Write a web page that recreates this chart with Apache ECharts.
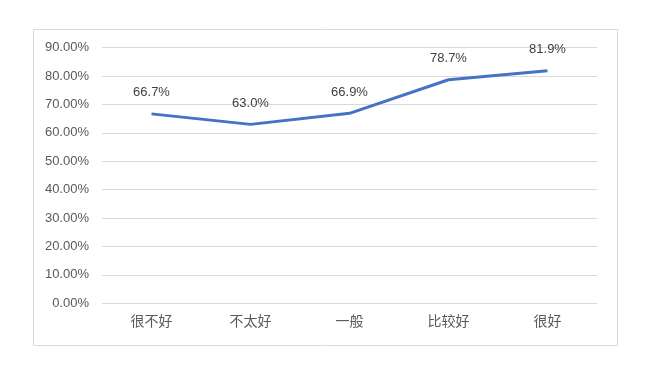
<!DOCTYPE html>
<html><head><meta charset="utf-8">
<script src="https://cdn.jsdelivr.net/npm/echarts@6/dist/echarts.min.js"></script>
<style>html,body{margin:0;padding:0;background:#fff;}#c{width:650px;height:367px;}</style>
</head><body><div id="c"></div>
<script>
var categories = ['很不好', '不太好', '一般', '比较好', '很好'];
var values = [66.7, 63.0, 66.9, 78.7, 81.9];
var yTicks = [0, 10, 20, 30, 40, 50, 60, 70, 80, 90];

var font = '"Liberation Sans", "Noto Sans CJK SC", sans-serif';
var chart = echarts.init(document.getElementById('c'), null, {renderer: 'canvas'});
chart.setOption({
  animation: false,
  backgroundColor: '#fff',
  graphic: [{
    type: 'rect', shape: {x: 33.5, y: 29.5, width: 584, height: 316},
    style: {fill: 'none', stroke: '#d9d9d9', lineWidth: 1}, silent: true, z: -1
  }],
  grid: {left: 102, right: 53, top: 47.7, bottom: 63.7, containLabel: false},
  xAxis: {
    type: 'category', data: categories, boundaryGap: true,
    axisLine: {show: false}, axisTick: {show: false},
    axisLabel: {color: '#595959', fontSize: 14, fontFamily: font, margin: 12}
  },
  yAxis: {
    type: 'value', min: yTicks[0], max: yTicks[yTicks.length - 1], interval: 10,
    axisLine: {show: false}, axisTick: {show: false},
    splitLine: {lineStyle: {color: '#d9d9d9', width: 1}},
    axisLabel: {color: '#595959', fontSize: 13, fontFamily: font, margin: 13,
      formatter: function (v) { return v.toFixed(2) + '%'; }}
  },
  series: [{
    type: 'line', data: values, showSymbol: true, symbol: 'circle', symbolSize: 1,
    itemStyle: {color: 'rgba(0,0,0,0)'},
    lineStyle: {color: '#4472C4', width: 3},
    label: {show: true, position: 'top', distance: 14, color: '#404040', fontSize: 13, fontFamily: font,
      formatter: function (p) { return p.value.toFixed(1) + '%'; }}
  }]
});
</script></body></html>
